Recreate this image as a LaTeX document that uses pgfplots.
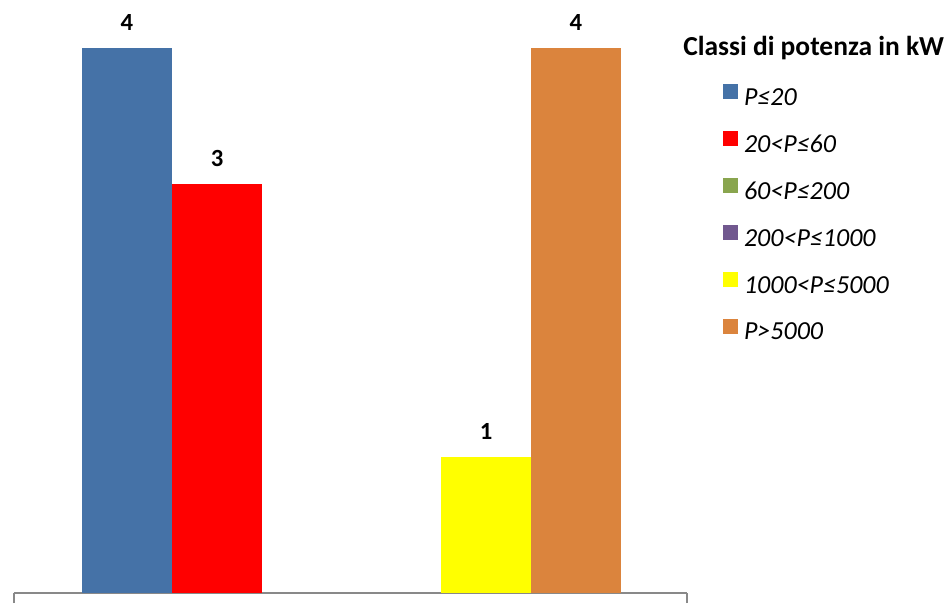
\documentclass[border=0pt]{standalone}
\usepackage{pgfplots}
\pgfplotsset{compat=1.18}
\usepackage{fontspec}
\setmainfont{Carlito}

\definecolor{cBlue}{HTML}{4572A7}
\definecolor{cRed}{HTML}{FF0000}
\definecolor{cGreen}{HTML}{89A54E}
\definecolor{cPurple}{HTML}{71588F}
\definecolor{cYellow}{HTML}{FFFF00}
\definecolor{cOrange}{HTML}{DB843D}
\definecolor{axgray}{HTML}{898989}

\begin{document}
\begin{tikzpicture}
\begin{axis}[
    scale only axis,
    width=504.75pt, height=444.75pt,
    xmin=0, xmax=2, ymin=0, ymax=4.352,
    ybar, bar width=0.2675, bar shift=0pt,
    axis y line=none,
    axis x line*=bottom,
    x axis line style={axgray, line width=1pt},
    xtick={0,2}, xticklabels={},
    tick align=outside,
    major tick length=7.5pt,
    xtick style={axgray, line width=1pt},
    clip=false,
    /pgf/number format/assume math mode=true,
    nodes near coords,
    nodes near coords style={font=\fontsize{18.5}{18.5}\selectfont\bfseries, text=black,
        anchor=south, inner sep=0pt, text depth=0pt, yshift=12.75pt},
    legend cell align=left,
    legend image code/.code={\fill[#1] (0pt,0pt) rectangle (11.25pt,11.25pt);},
    legend style={draw=none, fill=none, inner sep=0pt, outer sep=0pt,
        at={(rel axis cs:0,0)}, anchor=north west,
        xshift=531.75pt, yshift=381.5pt,
        row sep=16.45pt, column sep=4.5pt,
        font=\fontsize{19.5}{19.5}\selectfont\itshape,
        nodes={inner sep=0pt, text height=12pt, text depth=3pt}},
]
\addplot[fill=cBlue, draw=none] coordinates {(0.3358,4)};
\addlegendentry{P≤20}
\addplot[fill=cRed, draw=none] coordinates {(0.6033,3)};
\addlegendentry{20<P≤60}
\addlegendimage{fill=cGreen, draw=none}
\addlegendentry{60<P≤200}
\addlegendimage{fill=cPurple, draw=none}
\addlegendentry{200<P≤1000}
\addplot[fill=cYellow, draw=none] coordinates {(1.4027,1)};
\addlegendentry{1000<P≤5000}
\addplot[fill=cOrange, draw=none] coordinates {(1.6701,4)};
\addlegendentry{P>5000}

\coordinate (O) at (rel axis cs:0,0);
\node[anchor=base west, inner sep=0pt, font=\fontsize{20.6}{20.6}\selectfont\bfseries,
      xshift=501.75pt, yshift=402.75pt] at (rel axis cs:0,0) {Classi di potenza in kW};
\end{axis}
\pgfresetboundingbox
\path (O) ++(-10.5pt,-7.5pt) rectangle ++(714pt,452.25pt);
\end{tikzpicture}
\end{document}
